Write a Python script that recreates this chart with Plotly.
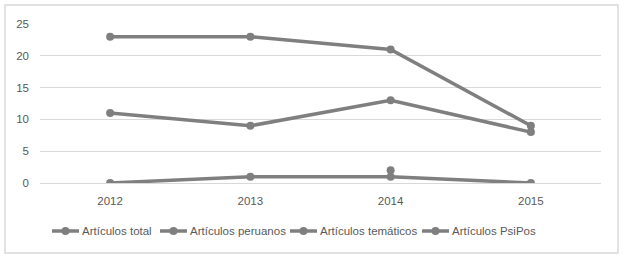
import plotly.graph_objects as go

years = ["2012", "2013", "2014", "2015"]
total = [23, 23, 21, 9]
peruanos = [11, 9, 13, 8]
tematicos = [0, 1, 1, 0]
psipos = [None, None, 2, None]
names = ["Artículos total", "Artículos peruanos", "Artículos temáticos", "Artículos PsiPos"]
series = [total, peruanos, tematicos, psipos]

GRAY = "#7f7f7f"
TXT = "#595959"
FONT = "Liberation Sans"

fig = go.Figure()
for n, s in zip(names, series):
    fig.add_trace(go.Scatter(
        x=years, y=s, name=n, mode="lines+markers",
        line=dict(color=GRAY, width=3.5),
        marker=dict(color=GRAY, size=8),
        connectgaps=False, showlegend=False,
    ))

L, R, T, B = 40, 25, 24, 75
W, H = 626, 258
pw, ph = W - L - R, H - T - B

def px(xp):
    return (xp - L) / pw

def py(yp):
    return (T + ph - yp) / ph

# manual legend (Excel-style, compact)
legend_x = [52, 160, 290, 422]
ly = 231
shapes = [dict(type="rect", xref="paper", yref="paper",
               x0=px(5), x1=px(618), y0=py(253), y1=py(5),
               line=dict(color="#d9d9d9", width=1.5), fillcolor="rgba(0,0,0,0)", layer="below")]
annotations = []
for n, lx in zip(names, legend_x):
    shapes.append(dict(type="line", xref="paper", yref="paper",
                       x0=px(lx), x1=px(lx + 27), y0=py(ly), y1=py(ly),
                       line=dict(color=GRAY, width=3.5)))
    shapes.append(dict(type="circle", xref="paper", yref="paper",
                       x0=px(lx + 9.5), x1=px(lx + 17.5), y0=py(ly + 4), y1=py(ly - 4),
                       line=dict(color=GRAY, width=0), fillcolor=GRAY))
    annotations.append(dict(xref="paper", yref="paper", x=px(lx + 27.5), y=py(ly),
                            text=n, showarrow=False, xanchor="left", yanchor="middle",
                            font=dict(family=FONT, size=11.5, color=TXT)))

fig.update_layout(
    template="none",
    width=W, height=H,
    margin=dict(l=L, r=R, t=T, b=B, autoexpand=False),
    paper_bgcolor="white", plot_bgcolor="white",
    font=dict(family=FONT, size=11.5, color=TXT),
    showlegend=False,
    xaxis=dict(type="category", range=[-0.5, 3.5], showgrid=False, showline=False,
               ticks="", tickfont=dict(family=FONT, size=11.5, color=TXT), zeroline=False,
               automargin=False, ticklabelstandoff=9),
    yaxis=dict(range=[0, 25], dtick=5, showgrid=True, gridcolor="#d9d9d9", gridwidth=1,
               zeroline=True, zerolinecolor="#d9d9d9", zerolinewidth=1, showline=False,
               ticks="", tickfont=dict(family=FONT, size=11.5, color=TXT), ticklabelstandoff=10,
               automargin=False),
    shapes=shapes,
    annotations=annotations,
)

fig.write_html("out.html", post_script="document.body.style.margin='0';",
               config=dict(displayModeBar=False))
